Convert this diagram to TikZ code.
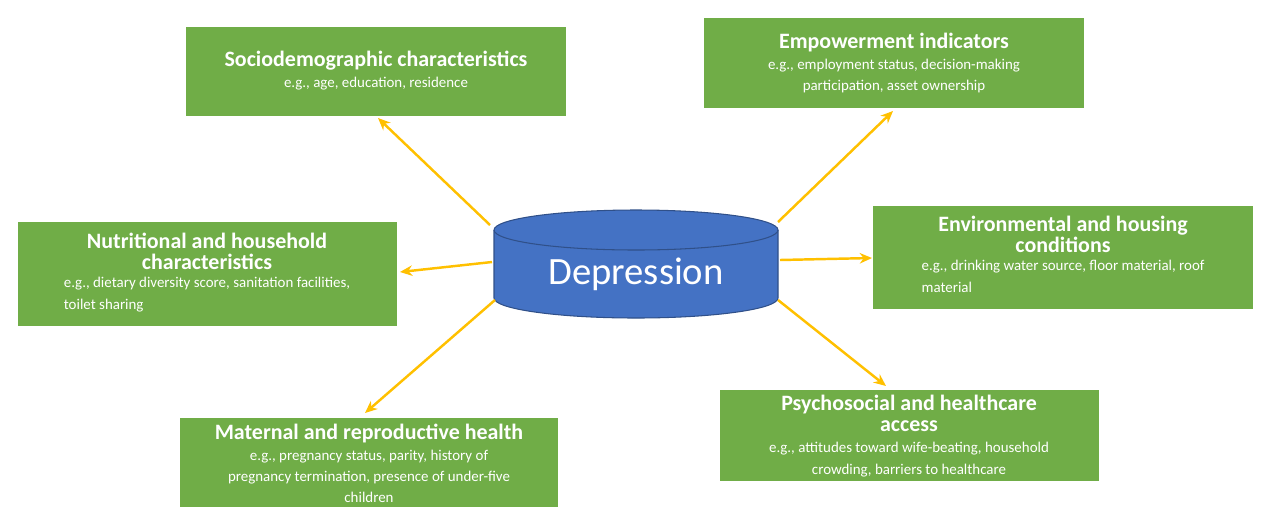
\documentclass[tikz,border=0pt]{standalone}
\usepackage{fontspec}
\setmainfont{Carlito}
\usetikzlibrary{arrows.meta}
\definecolor{boxgreen}{HTML}{70AD47}
\definecolor{cylblue}{HTML}{4472C4}
\definecolor{arrgold}{HTML}{FFC000}
\tikzset{
  factor/.style={text=white,align=center,inner sep=2pt},
  link/.style={draw=arrgold,line width=1.4pt,-{Stealth[length=7pt,width=6pt]}},
}
\newcommand{\fhead}[1]{{\fontsize{12.5}{14}\selectfont\bfseries #1}}
\newcommand{\fbody}[1]{{\fontsize{8.5}{10.5}\selectfont #1}}
\begin{document}
\begin{tikzpicture}[x=0.02cm,y=-0.02cm]
\useasboundingbox (0,0) rectangle (1280,525);
% boxes
\fill[boxgreen] (186,27) rectangle (566,116);
\node[factor] (socio) at (376,71) {\fhead{Sociodemographic characteristics}\\\fbody{e.g., age, education, residence}};
\fill[boxgreen] (704,18) rectangle (1084,108);
\node[factor] (empow) at (894,63) {\fhead{Empowerment indicators}\\\fbody{e.g., employment status, decision-making}\\\fbody{participation, asset ownership}};
\fill[boxgreen] (18,222) rectangle (397,326);
\node[factor] (nutri) at (207,274) {\fhead{Nutritional and household}\\\fhead{characteristics}\\[2pt]\fbody{\begin{tabular}{@{}l@{}}e.g., dietary diversity score, sanitation facilities,\\[2pt]toilet sharing\end{tabular}}};
\fill[boxgreen] (873,206) rectangle (1253,309);
\node[factor] (envir) at (1063,257) {\fhead{Environmental and housing}\\\fhead{conditions}\\[2pt]\fbody{\begin{tabular}{@{}l@{}}e.g., drinking water source, floor material, roof\\[2pt]material\end{tabular}}};
\fill[boxgreen] (180,418) rectangle (558,507);
\node[factor] (mater) at (369,463) {\fhead{Maternal and reproductive health}\\\fbody{e.g., pregnancy status, parity, history of}\\\fbody{pregnancy termination, presence of under-five}\\\fbody{children}};
\fill[boxgreen] (720,390) rectangle (1099,481);
\node[factor] (psych) at (909,436) {\fhead{Psychosocial and healthcare}\\\fhead{access}\\\fbody{e.g., attitudes toward wife-beating, household}\\\fbody{crowding, barriers to healthcare}};
% cylinder
\fill[cylblue,draw=cylblue!70!black,line width=0.6pt] (494,230) -- (494,298) arc[start angle=180,end angle=0,x radius=142,y radius=20] -- (778,230) arc[start angle=0,end angle=-180,x radius=142,y radius=20];
\draw[cylblue!70!black,line width=0.6pt] (494,230) arc[start angle=180,end angle=0,x radius=142,y radius=20];
\node[text=white,font=\fontsize{22}{24}\selectfont] (dep) at (636,274) {Depression};
% ends of the connectors
\coordinate (d1) at (490,225); \coordinate (a1) at (378,118);
\coordinate (d2) at (778,222); \coordinate (a2) at (893,111);
\coordinate (d3) at (492,262); \coordinate (a3) at (400,272);
\coordinate (d4) at (780,260); \coordinate (a4) at (872,258);
\coordinate (d5) at (495,300); \coordinate (a5) at (365,413);
\coordinate (d6) at (778,300); \coordinate (a6) at (886,386);
\foreach \i in {1,...,6}{
  \draw[link] (d\i) -- (a\i);}
\end{tikzpicture}
\end{document}
